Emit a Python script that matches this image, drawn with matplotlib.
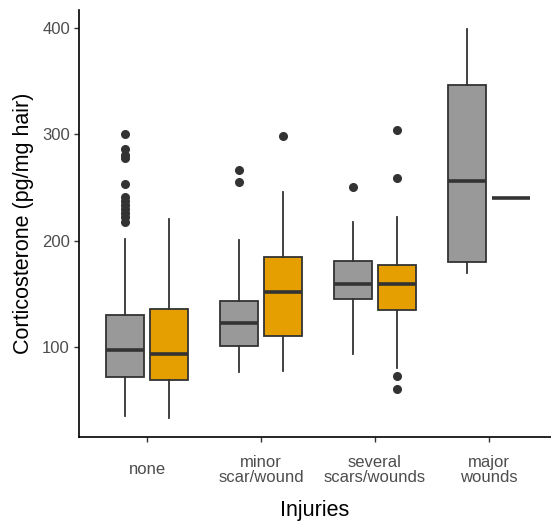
import numpy as np
import matplotlib
matplotlib.use("Agg")
import matplotlib.pyplot as plt

plt.rcParams['font.family'] = ['Liberation Sans', 'DejaVu Sans']

# injury categories on the x axis
categories = ["none", "minor\nscar/wound", "several\nscars/wounds", "major\nwounds"]

# box stats, one list per group (grey, orange)
grey_whislo = [35, 76, 93, 170]
grey_q1 = [72, 101, 145, 180]
grey_med = [97, 123, 159, 256]
grey_q3 = [130, 143, 181, 346]
grey_whishi = [202, 201, 218, 399]
grey_fliers = [[300, 286, 281, 278, 253, 241, 237, 234, 230, 226, 222, 218],
               [266, 255],
               [250],
               []]

orange_whislo = [33, 77, 80, 240]
orange_q1 = [69, 110, 135, 240]
orange_med = [93, 152, 159, 240]
orange_q3 = [136, 185, 177, 240]
orange_whishi = [220, 246, 222, 240]
orange_fliers = [[], [298], [304, 259, 73, 60], []]

grey_col = "#999999"
orange_col = "#E69F00"
line_col = "#333333"


def make_stats(lo, q1, med, q3, hi, fl):
    out = []
    for i in range(len(lo)):
        out.append(dict(whislo=lo[i], q1=q1[i], med=med[i], q3=q3[i],
                        whishi=hi[i], fliers=fl[i]))
    return out


fig = plt.figure(figsize=(5.51, 5.23), dpi=100)
ax = fig.add_axes([0.1434, 0.1644, 0.8566, 0.8166])

x = np.arange(1, len(categories) + 1)
dodge = 0.19
width = 0.335

groups = [(make_stats(grey_whislo, grey_q1, grey_med, grey_q3, grey_whishi, grey_fliers), grey_col, -dodge),
          (make_stats(orange_whislo, orange_q1, orange_med, orange_q3, orange_whishi, orange_fliers), orange_col, dodge)]

for stats, col, off in groups:
    ax.bxp(stats, positions=x + off, widths=width, patch_artist=True,
           showcaps=False,
           boxprops=dict(facecolor=col, edgecolor=line_col, linewidth=1.3),
           whiskerprops=dict(color=line_col, linewidth=1.3),
           medianprops=dict(color=line_col, linewidth=2.6, solid_capstyle='butt'),
           flierprops=dict(marker='o', markerfacecolor=line_col, markeredgecolor=line_col,
                           markersize=5.5, linestyle='none'),
           manage_ticks=False)

ax.set_xlim(0.4035, 4.544)
ax.set_ylim(15.3, 417)
ax.set_yticks([100, 200, 300, 400])
ax.set_xticks(x)
ax.set_xticklabels(categories, va='center', linespacing=1.0)

ax.tick_params(axis='both', colors='#333333', length=3.5, width=1.0, labelsize=12,
               labelcolor='#4D4D4D')
ax.tick_params(axis='x', pad=20)
ax.tick_params(axis='y', pad=3)

for side in ['top', 'right']:
    ax.spines[side].set_visible(False)
for side in ['left', 'bottom']:
    ax.spines[side].set_color('black')
    ax.spines[side].set_linewidth(1.2)

ax.set_ylabel("Corticosterone (pg/mg hair)", fontsize=15.5, color='black', labelpad=6)
ax.set_xlabel("Injuries", fontsize=15.5, color='black', labelpad=11)

fig.savefig("out.png", dpi=100)
